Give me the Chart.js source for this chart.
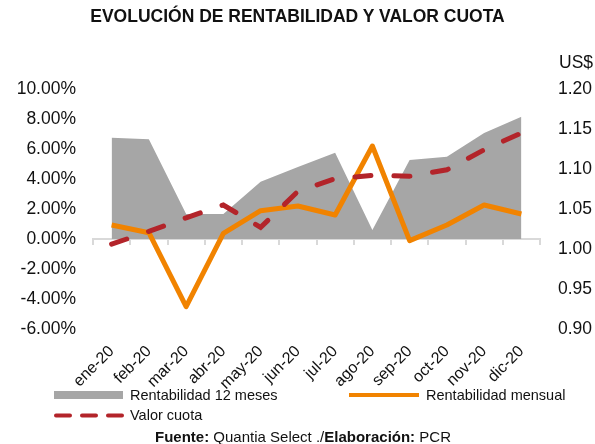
<!DOCTYPE html>
<html>
<head>
<meta charset="utf-8">
<script src="https://cdn.jsdelivr.net/npm/chart.js@4/dist/chart.umd.min.js"></script>
<style>
  body { margin: 0; background: #fff; font-family: "Liberation Sans", Arial, sans-serif; color: #111; }
  #wrap { position: relative; width: 595px; height: 444px; }
  #myChart { position: absolute; left: 0; top: 0; }
  .txt { position: absolute; white-space: nowrap; line-height: 1; }
  #title { left: 0; width: 595px; top: 8px; text-align: center; font-weight: bold; font-size: 17.5px; }
  #usd { left: 559px; top: 54px; font-size: 17.5px; }
  .leg { font-size: 14.5px; }
  #foot { left: 0; width: 606px; top: 429px; text-align: center; font-size: 15px; }
</style>
</head>
<body>
<div id="wrap">
  <canvas id="myChart" width="595" height="444"></canvas>
  <div class="txt" id="title">EVOLUCIÓN DE RENTABILIDAD Y VALOR CUOTA</div>
  <div class="txt" id="usd">US$</div>
  <svg width="595" height="444" style="position:absolute;left:0;top:0">
    <rect x="54" y="391" width="69" height="8" fill="#a6a6a6"></rect>
    <line x1="349" y1="395" x2="419" y2="395" stroke="#f18300" stroke-width="4"></line>
    <line x1="56" y1="415.5" x2="123" y2="415.5" stroke="#b3242a" stroke-width="4" stroke-dasharray="14 12" stroke-linecap="round"></line>
  </svg>
  <div class="txt leg" style="left:130px;top:388px">Rentabilidad 12 meses</div>
  <div class="txt leg" style="left:426px;top:388px">Rentabilidad mensual</div>
  <div class="txt leg" style="left:130px;top:408px">Valor cuota</div>
  <div class="txt" id="foot"><b>Fuente:</b> Quantia Select ./<b>Elaboración:</b> PCR</div>
</div>
<script>
  // datos
  const meses = ['ene-20', 'feb-20', 'mar-20', 'abr-20', 'may-20', 'jun-20',
                 'jul-20', 'ago-20', 'sep-20', 'oct-20', 'nov-20', 'dic-20'];
  const rent12m = [6.75, 6.65, 1.67, 1.67, 3.82, 4.80, 5.75, 0.60, 5.27, 5.49, 7.07, 8.15];
  const rentMensual = [0.93, 0.42, -4.51, 0.38, 1.89, 2.20, 1.60, 6.20, -0.11, 0.93, 2.27, 1.67];
  const valorCuota = [1.006, 1.022, 1.039, 1.055, 1.027, 1.072, 1.088, 1.092, 1.091, 1.099, 1.124, 1.145];

  const tickFont = { family: 'Liberation Sans', size: 17.5 };

  let ctx = document.getElementById('myChart').getContext('2d');

  let chart = new Chart(ctx, {
    type: 'line',
    data: {
      labels: meses,
      datasets: [{
        label: 'Valor cuota',
        data: valorCuota,
        yAxisID: 'y1',
        borderColor: '#b3242a',
        borderWidth: 5,
        borderDash: [16, 23],
        borderCapStyle: 'round',
        pointRadius: 0,
        fill: false,
        order: 1
      }, {
        label: 'Rentabilidad mensual',
        data: rentMensual,
        yAxisID: 'y',
        borderColor: '#f18300',
        borderWidth: 5,
        borderJoinStyle: 'round',
        pointRadius: 0,
        fill: false,
        order: 2
      }, {
        label: 'Rentabilidad 12 meses',
        data: rent12m,
        yAxisID: 'y',
        borderWidth: 0,
        borderColor: '#a6a6a6',
        backgroundColor: '#a6a6a6',
        pointRadius: 0,
        fill: 'origin',
        order: 3
      }]
    },
    options: {
      responsive: false,
      animation: false,
      layout: { padding: { top: 89, left: 0, right: 0, bottom: 0 } },
      plugins: {
        legend: { display: false },
        tooltip: { enabled: false }
      },
      scales: {
        x: {
          offset: true,
          grid: { display: false },
          border: { display: false },
          ticks: {
            font: { family: 'Liberation Sans', size: 16 },
            color: '#111',
            maxRotation: 45,
            minRotation: 45,
            padding: 5
          },
          afterFit: function (scale) { scale.height = 115; }
        },
        x2: {
          type: 'category',
          position: { y: 0 },
          offset: true,
          ticks: { display: false },
          grid: {
            offset: true,
            drawOnChartArea: false,
            drawTicks: true,
            tickLength: 5,
            color: '#d9d9d9',
            lineWidth: 2
          },
          border: { color: '#d9d9d9', width: 2 }
        },
        y: {
          position: 'left',
          min: -6,
          max: 10,
          ticks: {
            stepSize: 2,
            font: tickFont,
            color: '#111',
            padding: 17,
            callback: function (v) { return v.toFixed(2) + '%'; }
          },
          grid: { display: false, drawTicks: false },
          border: { display: false },
          afterFit: function (scale) { scale.width = 93; }
        },
        y1: {
          position: 'right',
          min: 0.9,
          max: 1.2,
          ticks: {
            stepSize: 0.05,
            font: tickFont,
            color: '#111',
            padding: 18,
            callback: function (v) { return v.toFixed(2); }
          },
          grid: { display: false, drawTicks: false },
          border: { display: false },
          afterFit: function (scale) { scale.width = 55; }
        }
      }
    }
  });
</script>
</body>
</html>
